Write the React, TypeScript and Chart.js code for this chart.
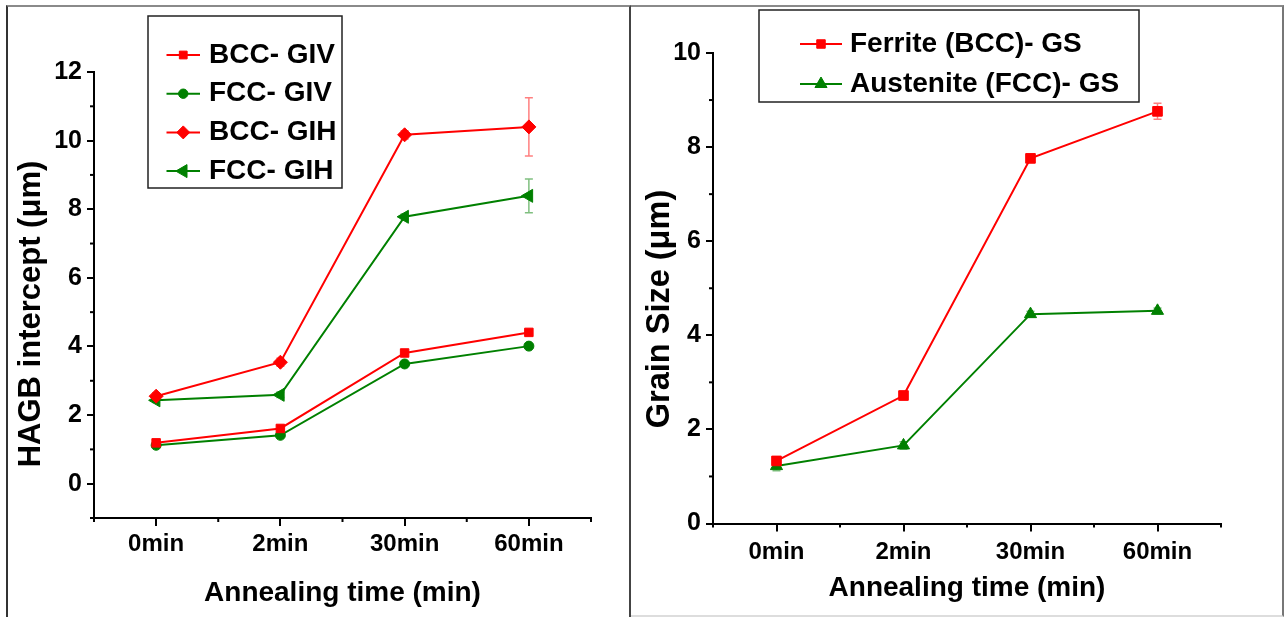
import React, { useEffect, useRef } from 'react';
import { Chart, registerables } from 'chart.js';
import { drawPoint } from 'chart.js/helpers';

Chart.register(...registerables);

const FONT = "'Liberation Sans', Arial, Helvetica, sans-serif";
const RED = '#ff0000';
const GREEN = '#008000';
const RED_ERR = 'rgba(255,0,0,0.5)';
const GREEN_ERR = 'rgba(0,128,0,0.5)';

// ---------- data ----------
const categories = ['0min', '2min', '30min', '60min'];

// Left panel: HAGB intercept (µm)
const bccGIV = [1.19, 1.61, 3.81, 4.41];
const bccGIVErr = [0.05, 0.06, 0.05, 0.05];
const fccGIV = [1.12, 1.41, 3.49, 4.01];
const fccGIVErr = [0.05, 0.05, 0.05, 0.05];
const bccGIH = [2.55, 3.54, 10.17, 10.4];
const bccGIHErr = [0.1, 0.12, 0.12, 0.85];
const fccGIH = [2.43, 2.59, 7.78, 8.39];
const fccGIHErr = [0.06, 0.08, 0.08, 0.49];
const leftYTicks = [0, 2, 4, 6, 8, 10, 12];
const leftYMinor = [-1, 1, 3, 5, 7, 9, 11];

// Right panel: Grain size (µm)
const ferriteGS = [1.33, 2.72, 7.76, 8.76];
const ferriteErr = [0.07, 0.09, 0.05, 0.17];
const austeniteGS = [1.22, 1.66, 4.45, 4.52];
const austeniteErr = [0.1, 0.08, 0.06, 0.06];
const rightYTicks = [0, 2, 4, 6, 8, 10];
const rightYMinor = [1, 3, 5, 7, 9];

const xMinor = [-0.5, 0.5, 1.5, 2.5, 3.5];

// ---------- plugin ----------
const decorPlugin: any = {
  id: 'decor',
  beforeDatasetsDraw(chart: any) {
    const { ctx, scales } = chart;
    const x = scales.x;
    const y = scales.y;
    ctx.save();
    chart.data.datasets.forEach((ds: any) => {
      if (!ds.errors) return;
      ctx.strokeStyle = ds.errorColor;
      ctx.lineWidth = 1.5;
      ds.data.forEach((v: number, i: number) => {
        const e = ds.errors[i];
        if (!e) return;
        const px = x.getPixelForValue(i);
        const top = y.getPixelForValue(v + e);
        const bot = y.getPixelForValue(v - e);
        ctx.beginPath();
        ctx.moveTo(px, top);
        ctx.lineTo(px, bot);
        ctx.moveTo(px - 4, top);
        ctx.lineTo(px + 4, top);
        ctx.moveTo(px - 4, bot);
        ctx.lineTo(px + 4, bot);
        ctx.stroke();
      });
    });
    ctx.restore();
  },
  afterDraw(chart: any, _args: any, opts: any) {
    const { ctx, chartArea: ca, scales } = chart;
    ctx.save();
    // minor ticks
    ctx.strokeStyle = '#000';
    ctx.lineWidth = 2;
    for (const v of opts.yMinor) {
      const py = scales.y.getPixelForValue(v);
      ctx.beginPath();
      ctx.moveTo(ca.left - 4, py);
      ctx.lineTo(ca.left, py);
      ctx.stroke();
    }
    for (const v of opts.xMinor) {
      const px = scales.x.getPixelForValue(v);
      ctx.beginPath();
      ctx.moveTo(px, ca.bottom);
      ctx.lineTo(px, ca.bottom + 4);
      ctx.stroke();
    }
    // axis titles
    ctx.fillStyle = '#000';
    ctx.textAlign = 'center';
    ctx.textBaseline = 'middle';
    ctx.font = `bold ${opts.xTitleSize}px ${FONT}`;
    ctx.fillText(opts.xTitle, (ca.left + ca.right) / 2, ca.bottom + opts.xTitleOffset);
    ctx.save();
    ctx.translate(opts.yTitleX, opts.yTitleY);
    ctx.rotate(-Math.PI / 2);
    ctx.font = `bold ${opts.yTitleSize}px ${FONT}`;
    ctx.fillText(opts.yTitle, 0, 0);
    ctx.restore();
    // legend
    const L = opts.legend;
    ctx.fillStyle = '#fff';
    ctx.fillRect(L.x, L.y, L.w, L.h);
    ctx.strokeStyle = '#222';
    ctx.lineWidth = 1.5;
    ctx.strokeRect(L.x, L.y, L.w, L.h);
    L.items.forEach((it: any, k: number) => {
      const cy = L.firstY + k * L.stepY;
      ctx.strokeStyle = it.color;
      ctx.lineWidth = 2;
      ctx.beginPath();
      ctx.moveTo(L.x0, cy);
      ctx.lineTo(L.x1, cy);
      ctx.stroke();
      ctx.fillStyle = it.color;
      ctx.lineWidth = 1;
      drawPoint(ctx, { pointStyle: it.style, radius: it.radius, rotation: it.rotation || 0, borderWidth: 1 } as any, (L.x0 + L.x1) / 2, cy);
      ctx.fillStyle = '#000';
      ctx.font = `bold ${L.size}px ${FONT}`;
      ctx.textAlign = 'left';
      ctx.textBaseline = 'middle';
      ctx.fillText(it.label, L.textX, cy);
    });
    ctx.restore();
  },
};

function ds(label: string, data: number[], errors: number[], color: string, errColor: string, style: string, radius: number, rotation = 0): any {
  return {
    label,
    data,
    errors,
    errorColor: errColor,
    borderColor: color,
    backgroundColor: color,
    borderWidth: 2,
    pointStyle: style,
    pointRadius: radius,
    pointRotation: rotation,
    pointBorderWidth: 1,
    pointBackgroundColor: color,
    pointBorderColor: color,
    tension: 0,
    fill: false,
  };
}

function makeConfig(p: any): any {
  const tickFont = (size: number) => ({ family: FONT, size, weight: 'bold' as const });
  return {
    type: 'line',
    data: { labels: categories, datasets: p.datasets },
    plugins: [decorPlugin],
    options: {
      animation: false,
      responsive: false,
      maintainAspectRatio: false,
      layout: { padding: { left: 0, right: p.padRight, top: p.padTop, bottom: 0 } },
      plugins: {
        legend: { display: false },
        tooltip: { enabled: false },
        decor: p.decor,
      },
      scales: {
        x: {
          type: 'category',
          offset: true,
          grid: { drawOnChartArea: false, color: '#000', lineWidth: 2, tickLength: 8 },
          border: { display: true, color: '#000', width: 2 },
          ticks: { color: '#000', font: tickFont(24), padding: p.xTickPad, maxRotation: 0, autoSkip: false },
          afterFit: (s: any) => { s.height = p.xAxisH; },
        },
        y: {
          type: 'linear',
          min: p.yMin,
          max: p.yMax,
          afterBuildTicks: (s: any) => { s.ticks = p.yTicks.map((v: number) => ({ value: v })); },
          grid: { drawOnChartArea: false, color: '#000', lineWidth: 2, tickLength: 7 },
          border: { display: true, color: '#000', width: 2 },
          ticks: { color: '#000', font: tickFont(25), padding: 5 },
          afterFit: (s: any) => { s.width = p.yAxisW; },
        },
      },
    },
  };
}

const leftConfig = () => makeConfig({
  datasets: [
    ds('BCC- GIV', bccGIV, bccGIVErr, RED, RED_ERR, 'rect', 6),
    ds('FCC- GIV', fccGIV, fccGIVErr, GREEN, GREEN_ERR, 'circle', 5),
    ds('BCC- GIH', bccGIH, bccGIHErr, RED, RED_ERR, 'rectRot', 7),
    ds('FCC- GIH', fccGIH, fccGIHErr, GREEN, GREEN_ERR, 'triangle', 7.5, -90),
  ],
  padRight: 38,
  padTop: 72,
  xAxisH: 99,
  yAxisW: 94,
  xTickPad: 4,
  yMin: -1,
  yMax: 12,
  yTicks: leftYTicks,
  decor: {
    yMinor: leftYMinor,
    xMinor,
    xTitle: 'Annealing time (min)',
    xTitleSize: 28,
    xTitleOffset: 75,
    yTitle: 'HAGB intercept (\u03bcm)',
    yTitleSize: 31,
    yTitleX: 31,
    yTitleY: 314,
    legend: {
      x: 148, y: 16, w: 194, h: 172,
      x0: 166.5, x1: 200, textX: 209, firstY: 55, stepY: 38.7, size: 28,
      items: [
        { label: 'BCC- GIV', color: RED, style: 'rect', radius: 5.5 },
        { label: 'FCC- GIV', color: GREEN, style: 'circle', radius: 4.7 },
        { label: 'BCC- GIH', color: RED, style: 'rectRot', radius: 6.5 },
        { label: 'FCC- GIH', color: GREEN, style: 'triangle', radius: 7.5, rotation: -90 },
      ],
    },
  },
});

const rightConfig = () => makeConfig({
  datasets: [
    ds('Ferrite (BCC)- GS', ferriteGS, ferriteErr, RED, RED_ERR, 'rect', 6.8),
    ds('Austenite (FCC)- GS', austeniteGS, austeniteErr, GREEN, GREEN_ERR, 'triangle', 7),
  ],
  padRight: 63,
  padTop: 53,
  xAxisH: 93.5,
  yAxisW: 83,
  xTickPad: 6,
  yMin: 0,
  yMax: 10,
  yTicks: rightYTicks,
  decor: {
    yMinor: rightYMinor,
    xMinor,
    xTitle: 'Annealing time (min)',
    xTitleSize: 28,
    xTitleOffset: 65,
    yTitle: 'Grain Size (\u03bcm)',
    yTitleSize: 32.5,
    yTitleX: 30,
    yTitleY: 309,
    legend: {
      x: 129, y: 10, w: 380, h: 92,
      x0: 170, x1: 212, textX: 220, firstY: 44, stepY: 40, size: 28,
      items: [
        { label: 'Ferrite (BCC)- GS', color: RED, style: 'rect', radius: 6 },
        { label: 'Austenite (FCC)- GS', color: GREEN, style: 'triangle', radius: 7 },
      ],
    },
  },
});

function ChartPanel({ makeCfg, left, width, height }: { makeCfg: () => any; left: number; width: number; height: number }) {
  const ref = useRef<HTMLCanvasElement>(null);
  useEffect(() => {
    const chart = new Chart(ref.current as HTMLCanvasElement, makeCfg());
    return () => chart.destroy();
  }, []);
  return (
    <canvas
      ref={ref}
      width={width}
      height={height}
      style={{ position: 'absolute', left, top: 0, width, height }}
    />
  );
}

export default function App() {
  return (
    <div style={{ position: 'fixed', left: 0, top: 0, width: 1288, height: 617, background: '#fff', overflow: 'hidden' }}>
      <div style={{ position: 'absolute', boxSizing: 'border-box', left: 6, top: 5, width: 625, height: 640, borderLeft: '2px solid #333', borderTop: '2px solid #8a8a8a', borderRight: '2px solid #444' }} />
      <div style={{ position: 'absolute', boxSizing: 'border-box', left: 631, top: 5, width: 653, height: 612, borderTop: '2px solid #8a8a8a', borderRight: '2px solid #777', borderBottom: '2px solid #ddd' }} />
      <ChartPanel makeCfg={leftConfig} left={0} width={629} height={617} />
      <ChartPanel makeCfg={rightConfig} left={630} width={654} height={617} />
    </div>
  );
}
